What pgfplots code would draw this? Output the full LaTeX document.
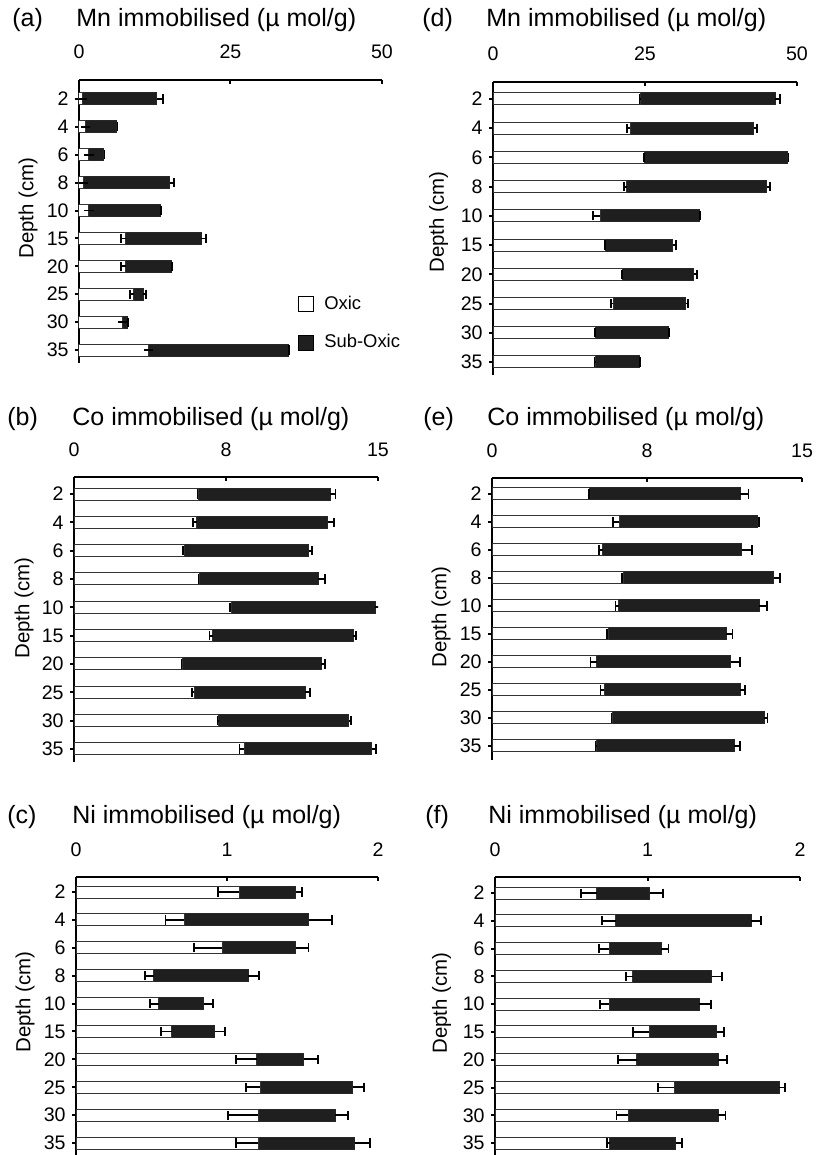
\documentclass[border=0pt]{standalone}
\usepackage{pgfplots}
\pgfplotsset{compat=1.18}
\usepackage{pgfplotstable}
\usepackage{fontspec}
\setmainfont{Liberation Sans}

% i: row position (35 cm at 0, 2 cm at 9); ox/oxe: Oxic and its error; tot/tote: Oxic+Sub-Oxic and its error
\pgfplotstableread{
i ox oxe tot tote
9 0.55 0 12.8 1.0
8 1.1 0 6.2 0.15
7 1.65 0 4.1 0.1
6 0.8 0 15.0 0.7
5 1.65 0 13.4 0.1
4 7.7 0.8 20.2 0.8
3 7.7 0.8 15.2 0.15
2 9.0 0.6 10.6 0.4
1 7.15 0 8.0 0.1
0 11.5 0 34.5 0.15
}\tA
\pgfplotstableread{
i ox oxe tot tote
9 6.14 0.05 12.65 0.25
8 6.06 0.17 12.51 0.3
7 5.43 0.05 11.58 0.16
6 6.19 0.05 12.04 0.36
5 7.76 0.05 14.87 0.21
4 6.85 0.16 13.77 0.16
3 5.35 0.05 12.19 0.21
2 5.93 0.12 11.41 0.25
1 7.13 0.05 13.55 0.12
0 8.40 0.23 14.70 0.21
}\tB
\pgfplotstableread{
i ox oxe tot tote
9 1.082 0.144 1.456 0.04
8 0.717 0.124 1.54 0.155
7 0.969 0.188 1.456 0.084
6 0.515 0.06 1.142 0.07
5 0.549 0.06 0.847 0.062
4 0.633 0.07 0.920 0.066
3 1.197 0.137 1.507 0.093
2 1.219 0.093 1.834 0.071
1 1.208 0.2 1.717 0.082
0 1.208 0.148 1.845 0.1
}\tC
\pgfplotstableread{
i ox oxe tot tote
9 24.2 0.1 46.4 0.8
8 22.6 0.5 42.9 0.5
7 24.9 0.1 48.5 0.1
6 22.0 0.5 45.0 0.5
5 17.65 1.2 34.0 0.1
4 18.5 0.1 29.6 0.5
3 21.3 0.1 33.0 0.5
2 19.8 0.4 31.7 0.4
1 16.9 0.1 28.8 0.1
0 16.8 0.1 24.1 0.1
}\tD
\pgfplotstableread{
i ox oxe tot tote
9 4.74 0.05 12.01 0.4
8 6.16 0.32 12.87 0.05
7 5.35 0.18 12.09 0.48
6 6.35 0.05 13.63 0.32
5 6.14 0.16 12.93 0.37
4 5.62 0.05 11.33 0.31
3 5.06 0.29 11.56 0.45
2 5.43 0.18 12.01 0.24
1 5.83 0.05 13.17 0.16
0 5.06 0.05 11.72 0.29
}\tE
\pgfplotstableread{
i ox oxe tot tote
9 0.667 0.103 1.016 0.083
8 0.793 0.094 1.679 0.063
7 0.75 0.068 1.089 0.048
6 0.903 0.044 1.421 0.07
5 0.75 0.061 1.34 0.077
4 1.01 0.103 1.454 0.048
3 0.929 0.125 1.464 0.059
2 1.176 0.105 1.864 0.037
1 0.874 0.077 1.464 0.048
0 0.754 0.022 1.185 0.039
}\tF

\pgfplotsset{
  panel/.style={
    scale only axis, anchor=north west,
    xbar, bar width=6pt, xmin=0,
    axis x line=top, axis y line=left,
    axis line style={-, line width=1pt, black},
    xtick align=inside, ytick align=outside,
    major tick length=2pt,
    tick style={line width=1pt, black},
    ytick={0,...,9}, yticklabels={35,30,25,20,15,10,8,6,4,2},
    yticklabel style={font=\fontsize{9.8}{9.8}\selectfont, inner sep=0pt, xshift=-3pt},
    xticklabel style={font=\fontsize{9.8}{9.8}\selectfont, anchor=base, inner sep=0pt, yshift=10.5pt},
    /pgf/number format/assume math mode=true,
  },
  subox/.style={fill=black!88, draw=black!85, line width=0.5pt, bar shift=0pt,
    error bars/x dir=plus, error bars/x explicit, error bars/error mark=|,
    error bars/error bar style={line width=0.9pt, black},
    error bars/error mark options={line width=0.9pt, mark size=2.3pt, black}},
  oxic/.style={fill=white, draw=black!80, line width=0.5pt, bar shift=0pt,
    error bars/x dir=minus, error bars/x explicit, error bars/error mark=|,
    error bars/error bar style={line width=0.9pt, black},
    error bars/error mark options={line width=0.9pt, mark size=2.3pt, black}},
}

\newcommand{\ttl}{\fontsize{12.5}{14}\selectfont}
\newcommand{\ylab}{\fontsize{10.2}{10.5}\selectfont}

\begin{document}
\begin{tikzpicture}
\useasboundingbox (0,0) rectangle (407.5pt,-577.5pt);

% (a)
\begin{axis}[panel, at={(39.5pt,-40pt)}, width=151.5pt, height=141.5pt,
  xmax=50, xtick={0,25,50}, xticklabels={0,25,50}, ymin=-0.466, ymax=9.68,
  legend style={at={(axis cs:36.1,0.95)}, anchor=west, draw=none, fill=none,
    inner sep=0pt, row sep=7pt, column sep=3pt, font=\fontsize{9.2}{9.2}\selectfont},
  legend cell align=left]
\addplot[forget plot, subox] table[x=tot, y=i, x error=tote] {\tA};
\addplot[forget plot, oxic] table[x=ox, y=i, x error=oxe] {\tA};
\addlegendimage{legend image code/.code={\draw[fill=white, draw=black, line width=0.6pt] (0pt,-3.75pt) rectangle (7.5pt,3.75pt);}}
\addlegendentry{Oxic}
\addlegendimage{legend image code/.code={\draw[fill=black!88, draw=black] (0pt,-3.75pt) rectangle (7.5pt,3.75pt);}}
\addlegendentry{Sub-Oxic}
\end{axis}

% (d)
\begin{axis}[panel, at={(246.5pt,-41pt)}, width=152pt, height=146.5pt,
  xmax=50, xtick={0,25,50}, xticklabels={0,25,50}, ymin=-0.445, ymax=9.58]
\addplot[subox] table[x=tot, y=i, x error=tote] {\tD};
\addplot[oxic] table[x=ox, y=i, x error=oxe] {\tD};
\end{axis}

% (b)
\begin{axis}[panel, at={(37pt,-238.5pt)}, width=152pt, height=142.5pt,
  xmax=15, xtick={0,7.5,15}, xticklabels={0,8,15}, ymin=-0.46, ymax=9.6]
\addplot[subox] table[x=tot, y=i, x error=tote] {\tB};
\addplot[oxic] table[x=ox, y=i, x error=oxe] {\tB};
\end{axis}

% (e)
\begin{axis}[panel, at={(246pt,-239pt)}, width=155pt, height=141pt,
  xmax=15, xtick={0,7.5,15}, xticklabels={0,8,15}, ymin=-0.5, ymax=9.57]
\addplot[subox] table[x=tot, y=i, x error=tote] {\tE};
\addplot[oxic] table[x=ox, y=i, x error=oxe] {\tE};
\end{axis}

% (c)
\begin{axis}[panel, at={(38pt,-438.5pt)}, width=151pt, height=139pt,
  xmax=2, xtick={0,1,2}, xticklabels={0,1,2}, ymin=-0.43, ymax=9.54]
\addplot[subox] table[x=tot, y=i, x error=tote] {\tC};
\addplot[oxic] table[x=ox, y=i, x error=oxe] {\tC};
\end{axis}

% (f)
\begin{axis}[panel, at={(247.5pt,-438.5pt)}, width=152.5pt, height=139pt,
  xmax=2, xtick={0,1,2}, xticklabels={0,1,2}, ymin=-0.43, ymax=9.58]
\addplot[subox] table[x=tot, y=i, x error=tote] {\tF};
\addplot[oxic] table[x=ox, y=i, x error=oxe] {\tF};
\end{axis}

% panel letters and titles
\begin{scope}[every node/.style={anchor=base west, inner sep=0pt, font=\ttl}]
\node at (6pt,-13.35pt) {(a)};
\node at (38pt,-13.35pt) {Mn immobilised (µ mol/g)};
\node at (211pt,-13.5pt) {(d)};
\node at (243pt,-13.5pt) {Mn immobilised (µ mol/g)};
\node at (3.5pt,-212.5pt) {(b)};
\node at (36pt,-212.5pt) {Co immobilised (µ mol/g)};
\node at (211.5pt,-212.5pt) {(e)};
\node at (243.5pt,-212.5pt) {Co immobilised (µ mol/g)};
\node at (3.5pt,-411.5pt) {(c)};
\node at (36pt,-411.5pt) {Ni immobilised (µ mol/g)};
\node at (212.5pt,-411.5pt) {(f)};
\node at (244pt,-411.5pt) {Ni immobilised (µ mol/g)};
\end{scope}

% depth labels
\begin{scope}[every node/.style={rotate=90, inner sep=0pt, font=\ylab}]
\node at (14pt,-104pt) {Depth (cm)};
\node at (12pt,-304pt) {Depth (cm)};
\node at (12.5pt,-501pt) {Depth (cm)};
\node at (219.25pt,-111pt) {Depth (cm)};
\node at (220.5pt,-308.5pt) {Depth (cm)};
\node at (220.75pt,-501.5pt) {Depth (cm)};
\end{scope}
\end{tikzpicture}
\end{document}
